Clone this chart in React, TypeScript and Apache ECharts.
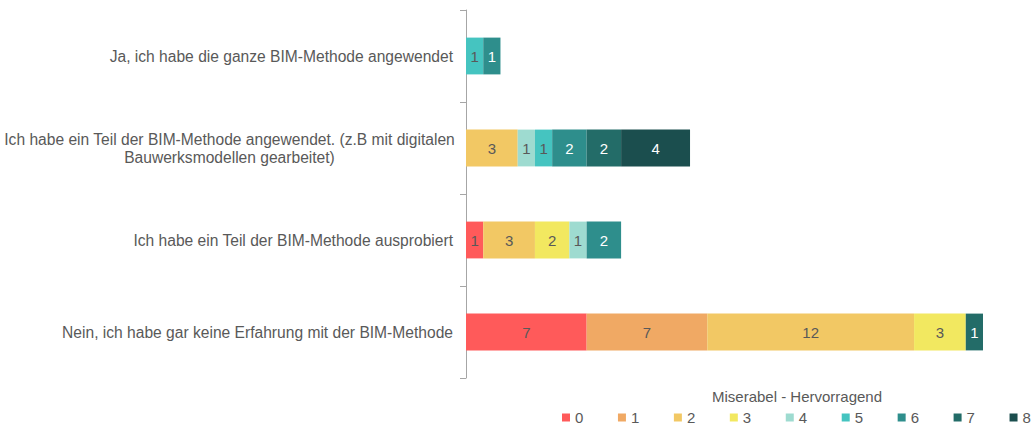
import React, { useEffect, useRef } from "react";
import * as echarts from "echarts";

const categories = [
  "Ja, ich habe die ganze BIM-Methode angewendet",
  "Ich habe ein Teil der BIM-Methode angewendet. (z.B mit digitalen\nBauwerksmodellen gearbeitet)",
  "Ich habe ein Teil der BIM-Methode ausprobiert",
  "Nein, ich habe gar keine Erfahrung mit der BIM-Methode",
];

const seriesNames = ["0", "1", "2", "3", "4", "5", "6", "7", "8"];
const colors = ["#FF5A5A", "#F0A964", "#F2C864", "#F2E860", "#9EDBD0", "#45C4C0", "#2E8E8C", "#236C68", "#1B4E4E"];
const labelColors = ["#595959", "#595959", "#595959", "#595959", "#595959", "#595959", "#FFFFFF", "#FFFFFF", "#FFFFFF"];

const s0 = [null, null, 1, 7];
const s1 = [null, null, null, 7];
const s2 = [null, 3, 3, 12];
const s3 = [null, null, 2, 3];
const s4 = [null, 1, 1, null];
const s5 = [1, 1, null, null];
const s6 = [1, 2, 2, null];
const s7 = [null, 2, null, 1];
const s8 = [null, 4, null, null];
const seriesData = [s0, s1, s2, s3, s4, s5, s6, s7, s8];

const FONT = "'Liberation Sans', Arial, sans-serif";
const LABEL_SIZE = 15.6;

export default function App() {
  const ref = useRef<HTMLDivElement>(null);
  useEffect(() => {
    if (!ref.current) return;
    const chart = echarts.init(ref.current, null, { renderer: "svg" });
    chart.setOption({
      animation: false,
      textStyle: { fontFamily: FONT },
      title: {
        text: "Miserabel - Hervorragend",
        left: 797,
        top: 389,
        textAlign: "center",
        padding: 0,
        textStyle: { fontSize: 15, fontWeight: "normal", color: "#595959", fontFamily: FONT },
      },
      legend: {
        data: seriesNames,
        left: 562,
        top: 410,
        width: 520,
        icon: "rect",
        itemWidth: 8,
        itemHeight: 8,
        itemGap: 34.6,
        textStyle: { fontSize: 15, color: "#595959", fontFamily: FONT },
        padding: 0,
      },
      grid: { left: 466, top: 10, bottom: 50, width: 517, containLabel: false },
      xAxis: {
        type: "value",
        min: 0,
        max: 30,
        show: false,
      },
      yAxis: {
        type: "category",
        data: categories,
        inverse: true,
        axisLine: { show: true, lineStyle: { color: "#A6A6A6" } },
        axisTick: { show: true, length: 6, lineStyle: { color: "#A6A6A6" } },
        axisLabel: {
          margin: 13,
          fontSize: LABEL_SIZE,
          color: "#595959",
          fontFamily: FONT,
          lineHeight: 18,
          formatter: (v: string) => {
            if (v.indexOf("\n") >= 0) {
              const parts = v.split("\n");
              return parts.map((p) => "{c|" + p + "}").join("\n");
            }
            return v;
          },
          rich: {
            c: { width: 447, align: "center", fontSize: LABEL_SIZE, color: "#595959", fontFamily: FONT, lineHeight: 18 },
          },
        },
      },
      series: seriesNames.map((name, i) => ({
        name,
        type: "bar",
        stack: "total",
        barWidth: "40%",
        data: seriesData[i],
        itemStyle: { color: colors[i] },
        label: {
          show: true,
          position: "inside",
          fontSize: 15,
          color: labelColors[i],
          fontFamily: FONT,
        },
      })),
    });
    return () => chart.dispose();
  }, []);
  return <div ref={ref} style={{ width: 1036, height: 428, position: "absolute", left: 0, top: 0 }} />;
}
